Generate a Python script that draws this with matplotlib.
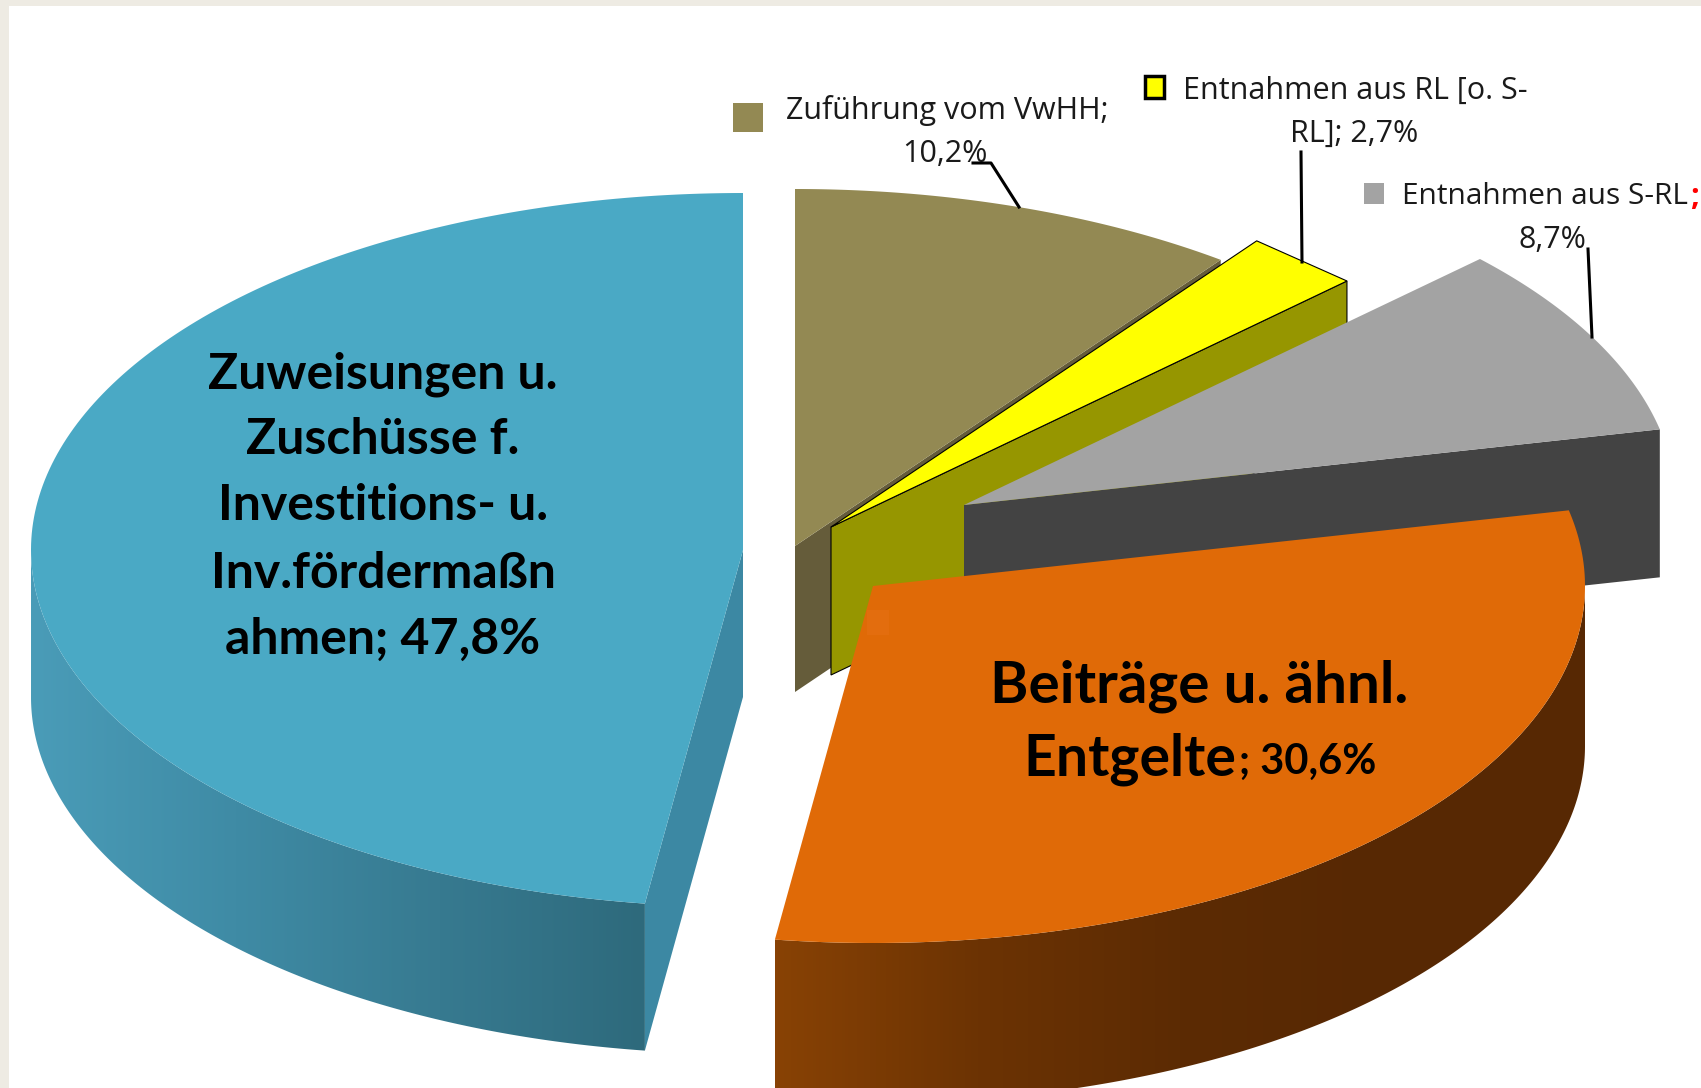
import numpy as np
import matplotlib
matplotlib.use('Agg')
import matplotlib.pyplot as plt
from matplotlib.patches import Polygon, Rectangle
from matplotlib.colors import LinearSegmentedColormap

# shares in percent, going counter clockwise from 12 o'clock
names = ['Zuweisungen', 'Beitraege', 'S-RL', 'RL', 'VwHH']
shares = [47.8, 30.6, 8.7, 2.7, 10.2]
pct_labels = ['47,8%', '30,6%', '8,7%', '2,7%', '10,2%']

top_colors = ['#4aa9c5', '#e06a07', '#a3a3a3', '#ffff00', '#938953']
side_colors = ['#3c88a3', '#7f3d04', '#434343', '#969600', '#655c3a']
edge_colors = ['none', 'none', 'none', 'black', 'none']
arc_points = [200, 200, 200, 2, 200]  # the yellow rim is drawn straight in the original

# where each exploded slice ends up (picture pixels)
apex_x = [743, 873, 964, 831, 795]
apex_y = [550, 586, 505, 527, 546]
depth = [147, 160, 148, 148, 146]
RX, RY = 712, 357

W, H = 1701, 1088
fig = plt.figure(figsize=(W / 100, H / 100), dpi=100)
ax = fig.add_axes([0, 0, 1, 1])
ax.set_xlim(0, W)
ax.set_ylim(H, 0)
ax.axis('off')

ax.add_patch(Rectangle((0, 0), W, H, fc='#eeebe3', ec='none', zorder=0))
ax.add_patch(Rectangle((9, 6), W, H, fc='white', ec='none', zorder=0))

bounds = 90 + 3.6 * np.cumsum([0] + shares)


def arc(i, t0, t1, n=200):
    t = np.radians(np.linspace(t0, t1, n))
    return apex_x[i] + RX * np.cos(t), apex_y[i] - RY * np.sin(t)


# back slices first, the big front ones over them
for z, i in enumerate([4, 3, 2, 1, 0]):
    zz = 2 + z * 3
    t0, t1 = bounds[i], bounds[i + 1]
    x, y = arc(i, t0, t1, arc_points[i])
    ax_, ay_, d = apex_x[i], apex_y[i], depth[i]

    # cut faces, only those turned to the viewer
    for ex, ey, normal in [(x[0], y[0], t0 - 90), (x[-1], y[-1], t1 + 90)]:
        if np.sin(np.radians(normal)) < -0.01:
            wall = [(ax_, ay_), (ex, ey), (ex, ey + d), (ax_, ay_ + d)]
            ax.add_patch(Polygon(wall, fc=side_colors[i], ec=edge_colors[i], lw=0.8, zorder=zz))

    # outer wall: only the front half of the rim shows, it has the shading
    lo, hi = max(t0, 180), min(t1, 360)
    if lo < hi:
        wx, wy = arc(i, lo, hi)
        outer = np.r_[np.c_[wx, wy], np.c_[wx, wy + d][::-1]]
        if i == 0:
            cmap = LinearSegmentedColormap.from_list('b', ['#4a9cb8', '#3f8ba5', '#377a90', '#2e6a7c'])
        else:
            cmap = LinearSegmentedColormap.from_list('o', ['#884205', '#6c3303', '#5c2b03', '#572803', '#572803'])
        grad = np.linspace(0, 1, 256).reshape(1, -1)
        im = ax.imshow(grad, cmap=cmap, aspect='auto', zorder=zz,
                       extent=[wx.min(), wx.max(), wy.max() + d, wy.min()])
        im.set_clip_path(Polygon(outer, transform=ax.transData))

    top = np.r_[[(ax_, ay_)], np.c_[x, y]]
    ax.add_patch(Polygon(top, fc=top_colors[i], ec=edge_colors[i], lw=0.8, zorder=zz + 1))

ax.set_xlim(0, W)
ax.set_ylim(H, 0)

# faint leftover square on the orange slice
ax.add_patch(Rectangle((867, 610), 22, 25, fc='#e36d0e', ec='none', zorder=16))

ZT = 30
small = dict(family='Open Sans', fontsize=22, color='#1a1a1a', va='center', zorder=ZT)
big = dict(family='Lato', fontweight='bold', color='black', va='center', ha='center', zorder=ZT)

# legend keys inside the data labels
ax.add_patch(Rectangle((733, 103), 30, 29, fc=top_colors[4], ec='none', zorder=ZT))
ax.add_patch(Rectangle((1145, 76), 19, 22, fc=top_colors[3], ec='black', lw=2.5, zorder=ZT))
ax.add_patch(Rectangle((1364, 183), 20, 21, fc=top_colors[2], ec='none', zorder=ZT))

ax.text(786, 111, 'Zuführung vom VwHH;', ha='left', **small)
ax.text(945, 154, pct_labels[4], ha='center', **small)
ax.text(1183, 91, 'Entnahmen aus RL [o. S-', ha='left', **small)
ax.text(1354, 134, 'RL]; ' + pct_labels[3], ha='center', **small)
ax.text(1402, 197, 'Entnahmen aus S-RL', ha='left', family='Open Sans', fontsize=21.5,
        color='#1a1a1a', va='center', zorder=ZT)
ax.text(1690, 197, ';', ha='left', va='center', family='Open Sans', fontsize=22,
        fontweight='bold', color='red', zorder=ZT)
ax.text(1552, 240, pct_labels[2], ha='center', **small)

# leader lines
ax.plot([973, 991, 1019], [163, 163, 207], color='black', lw=2.2, zorder=ZT)
ax.plot([1301, 1302], [152, 262], color='black', lw=2.2, zorder=ZT)
ax.plot([1588, 1592], [249, 337], color='black', lw=2.2, zorder=ZT)

blue_lines = ['Zuweisungen u.', 'Zuschüsse f.', 'Investitions- u.', 'Inv.fördermaßn', 'ahmen; ' + pct_labels[0]]
blue_y = [374, 439, 506, 573, 639]
for line, yy in zip(blue_lines, blue_y):
    ax.text(383, yy, line, fontsize=36, **big)

ax.text(1199, 686, 'Beiträge u. ähnl.', fontsize=42, **big)
ax.text(1130, 759, 'Entgelte', fontsize=41, **big)
ax.text(1308, 762, '; ' + pct_labels[1], fontsize=30, **big)

fig.savefig('out.png', dpi=100)
